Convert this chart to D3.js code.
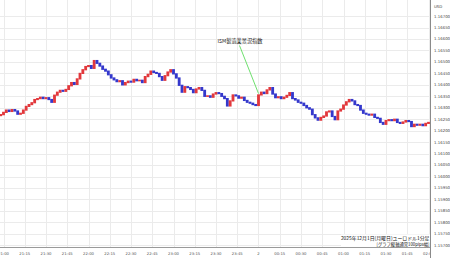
<!DOCTYPE html>
<html>
<head>
<meta charset="utf-8">
<script src="https://cdn.jsdelivr.net/npm/d3@7"></script>
<style>
  body { margin: 0; background: #fff; }
  svg { display: block; }
  text { font-family: "DejaVu Sans", sans-serif; }
  .jp { font-family: "Noto Sans CJK JP", sans-serif; }
</style>
</head>
<body>
<div id="chart"></div>
<script>
// EUR/USD 1-min chart, sampled as 2-minute candles (open = previous close)
const firstTime = "2025-12-01T20:58";
const firstOpen = 1.16266;
const closes = [
  1.16270, 1.16280, 1.16290, 1.16284, 1.16292, 1.16286, 1.16272, 1.16276,
  1.16290, 1.16306, 1.16314, 1.16322, 1.16336, 1.16340, 1.16346, 1.16340,
  1.16344, 1.16336, 1.16324, 1.16355, 1.16368, 1.16376, 1.16372, 1.16380,
  1.16396, 1.16410, 1.16402, 1.16426, 1.16450, 1.16466, 1.16480, 1.16484,
  1.16472, 1.16506, 1.16494, 1.16482, 1.16468, 1.16460, 1.16444, 1.16430,
  1.16422, 1.16414, 1.16418, 1.16400, 1.16410, 1.16416, 1.16412, 1.16424,
  1.16418, 1.16420, 1.16410, 1.16436, 1.16446, 1.16460, 1.16454, 1.16450,
  1.16436, 1.16420, 1.16440, 1.16456, 1.16466, 1.16448, 1.16430, 1.16398,
  1.16368, 1.16392, 1.16388, 1.16380, 1.16366, 1.16382, 1.16388, 1.16376,
  1.16350, 1.16352, 1.16346, 1.16360, 1.16366, 1.16362, 1.16350, 1.16340,
  1.16308, 1.16330, 1.16356, 1.16352, 1.16342, 1.16346, 1.16332, 1.16324,
  1.16320, 1.16314, 1.16310, 1.16356, 1.16368, 1.16362, 1.16378, 1.16388,
  1.16360, 1.16344, 1.16348, 1.16340, 1.16346, 1.16354, 1.16366, 1.16340,
  1.16334, 1.16324, 1.16320, 1.16310, 1.16300, 1.16294, 1.16270, 1.16256,
  1.16246, 1.16258, 1.16264, 1.16282, 1.16286, 1.16262, 1.16248, 1.16286,
  1.16294, 1.16312, 1.16326, 1.16336, 1.16330, 1.16314, 1.16310, 1.16290,
  1.16276, 1.16272, 1.16268, 1.16272, 1.16258, 1.16254, 1.16236, 1.16228,
  1.16244, 1.16248, 1.16244, 1.16250, 1.16236, 1.16232, 1.16238, 1.16244,
  1.16240, 1.16218, 1.16228, 1.16224, 1.16228, 1.16222, 1.16232, 1.16236
];
const priceTicks = [
  1.16700, 1.16650, 1.16600, 1.16550, 1.16500, 1.16450, 1.16400,
  1.16350, 1.16300, 1.16250, 1.16200, 1.16150, 1.16100, 1.16050,
  1.16000, 1.15950, 1.15900, 1.15850, 1.15800, 1.15750, 1.15700
];
const currency = "USD";
const eventLabel = "ISM製造業景況指数";
const eventTime = "2025-12-02T00:00";
const eventPrice = 1.16362;
const titleLines = ["2025年12月1日(月曜日)ユーロドル1分足", "[グラフ縦軸通常100pips幅]"];

const width = 450, height = 258;
const plotRight = 430, plotBottom = 248;
const parse = d3.timeParse("%Y-%m-%dT%H:%M");

const candles = closes.map((c, i) => ({
  time: d3.timeMinute.offset(parse(firstTime), i * 2),
  open: i === 0 ? firstOpen : closes[i - 1],
  close: c
}));

const x = d3.scaleTime()
  .domain([parse("2025-12-01T21:00"), parse("2025-12-02T02:00")])
  .range([3.5, 428.5]);
const y = d3.scaleLinear().domain([1.157, 1.167]).range([245.3, 16.1]);

const svg = d3.select("#chart").append("svg")
  .attr("width", width).attr("height", height);

svg.append("defs").append("clipPath").attr("id", "plot")
  .append("rect").attr("width", plotRight).attr("height", plotBottom);

// grid
const timeTicks = d3.timeMinute.every(15).range(x.domain()[0], d3.timeMinute.offset(x.domain()[1], 1));
const grid = svg.append("g").attr("clip-path", "url(#plot)");
grid.selectAll(".h").data(priceTicks).enter().append("line")
  .attr("x1", 0).attr("x2", plotRight)
  .attr("y1", (d) => Math.round(y(d)) + 0.5).attr("y2", (d) => Math.round(y(d)) + 0.5)
  .attr("stroke", "#ebebeb").attr("stroke-width", 1);
grid.selectAll(".v").data(timeTicks).enter().append("line")
  .attr("x1", (d) => Math.round(x(d)) + 0.5).attr("x2", (d) => Math.round(x(d)) + 0.5)
  .attr("y1", 0).attr("y2", plotBottom)
  .attr("stroke", "#ebebeb").attr("stroke-width", 1);

// candles, drawn edge to edge so they read as one jagged line
const step = x(d3.timeMinute.offset(x.domain()[0], 2)) - x(x.domain()[0]);
const candleG = svg.append("g").attr("clip-path", "url(#plot)");
candleG.selectAll("rect").data(candles).enter().append("rect")
  .attr("x", (d) => x(d.time) - step / 2)
  .attr("width", step)
  .attr("y", (d) => Math.min(y(d.open), y(d.close)) - 0.6)
  .attr("height", (d) => Math.abs(y(d.open) - y(d.close)) + 1.2)
  .attr("fill", (d) => (d.close >= d.open ? "#e2383c" : "#3438cc"));

// event annotation
const ex = x(parse(eventTime)), ey = y(eventPrice);
svg.append("line")
  .attr("x1", 239.5).attr("y1", 45.5).attr("x2", ex).attr("y2", ey)
  .attr("stroke", "#6ee06e").attr("stroke-width", 1);
svg.append("text").attr("class", "jp")
  .attr("x", 240).attr("y", 42.5).attr("text-anchor", "middle")
  .attr("font-size", 5.2).attr("fill", "#222").text(eventLabel);

// bottom axis
const xAxis = svg.append("g");
xAxis.append("line").attr("x1", 0).attr("x2", plotRight)
  .attr("y1", plotBottom - 0.5).attr("y2", plotBottom - 0.5)
  .attr("stroke", "#9a9a9a");
xAxis.selectAll("text").data(timeTicks).enter().append("text")
  .attr("x", (d) => x(d)).attr("y", 254.5)
  .attr("text-anchor", "middle").attr("font-size", 3.8).attr("fill", "#555")
  .text((d) => (d.getHours() === 0 && d.getMinutes() === 0 ? d3.timeFormat("%-d")(d) : d3.timeFormat("%H:%M")(d)));

// title box bottom right
const tb = svg.append("g");
tb.append("rect").attr("x", 341).attr("y", 234.5).attr("width", 89).attr("height", 12.5).attr("fill", "#fff");
tb.append("text").attr("class", "jp").attr("x", 429.5).attr("y", 240.3)
  .attr("text-anchor", "end").attr("font-size", 4.9).attr("fill", "#111").text(titleLines[0]);
tb.append("text").attr("class", "jp").attr("x", 429.5).attr("y", 245.6)
  .attr("text-anchor", "end").attr("font-size", 4.3).attr("fill", "#111").text(titleLines[1]);

// right price axis
const yAxis = svg.append("g");
yAxis.append("rect").attr("x", plotRight).attr("y", 0).attr("width", width - plotRight).attr("height", height).attr("fill", "#fff");
yAxis.append("line").attr("x1", plotRight + 0.5).attr("x2", plotRight + 0.5)
  .attr("y1", 0).attr("y2", height).attr("stroke", "#8a8a8a");
yAxis.selectAll("text.p").data(priceTicks).enter().append("text")
  .attr("x", 434).attr("y", (d) => y(d) + 1.4)
  .attr("font-size", 3.9).attr("fill", "#444")
  .text((d) => d3.format(".5f")(d));
yAxis.append("text").attr("x", 434).attr("y", 7.5)
  .attr("font-size", 3.9).attr("fill", "#444").text(currency);
</script>
</body>
</html>
